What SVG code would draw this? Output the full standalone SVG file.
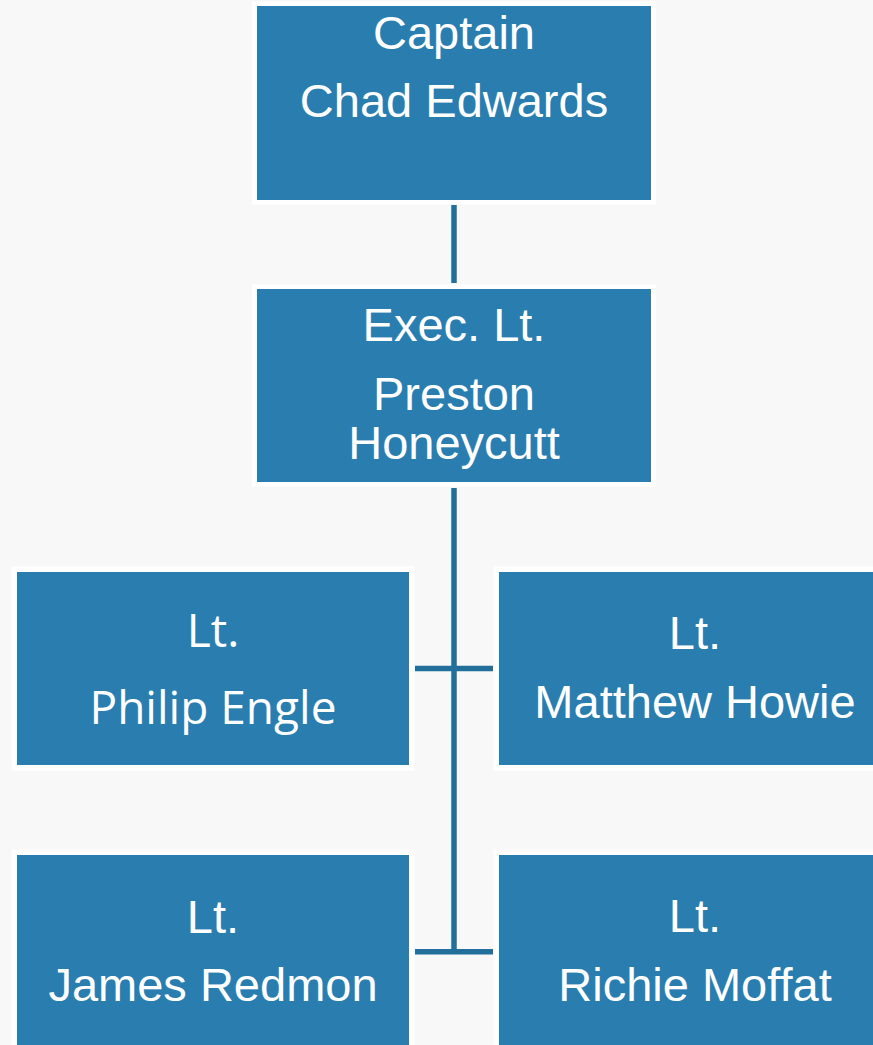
<svg xmlns="http://www.w3.org/2000/svg" width="873" height="1045" viewBox="0 0 873 1045">
<style>
.frame{fill:#ffffff}
.box{fill:#297EAF}
.t{fill:#ffffff;font-family:"Liberation Sans",Arial,sans-serif;font-size:47px;text-anchor:middle}
.s{fill:#ffffff;font-family:"Open Sans","Noto Sans",sans-serif;font-size:46px;text-anchor:middle}
.c{stroke:#236F9C;stroke-width:5.5;fill:none}
</style>
<rect x="0" y="0" width="873" height="1045" fill="#F8F8F8"/>
<g id="connectors">
<line class="c" x1="454" y1="205" x2="454" y2="283"/>
<line class="c" x1="454" y1="488" x2="454" y2="954"/>
<line class="c" x1="415" y1="668.5" x2="493" y2="668.5"/>
<line class="c" x1="415" y1="951.7" x2="493" y2="951.7"/>
</g>
<g id="captain">
<rect class="frame" x="252" y="1.5" width="404" height="203"/>
<rect class="box" x="257" y="6" width="394" height="194"/>
<text class="t" x="454" y="49">Captain</text>
<text class="t" x="454" y="117">Chad Edwards</text>
</g>
<g id="exec">
<rect class="frame" x="252" y="284.5" width="404" height="202"/>
<rect class="box" x="257" y="289" width="394" height="193"/>
<text class="t" x="454" y="341">Exec. Lt.</text>
<text class="t" x="454" y="410">Preston</text>
<text class="t" x="454" y="459">Honeycutt</text>
</g>
<g id="philip">
<rect class="frame" x="11.5" y="566.5" width="403" height="204"/>
<rect class="box" x="17" y="572" width="392" height="193"/>
<text class="s" x="213" y="647">Lt.</text>
<text class="s" x="213" y="724">Philip Engle</text>
</g>
<g id="matthew">
<rect class="frame" x="493.5" y="566.5" width="403" height="204"/>
<rect class="box" x="499" y="572" width="392" height="193"/>
<text class="t" x="695" y="649">Lt.</text>
<text class="t" x="695" y="718">Matthew Howie</text>
</g>
<g id="james">
<rect class="frame" x="11.5" y="849.5" width="403" height="204"/>
<rect class="box" x="17" y="855" width="392" height="200"/>
<text class="t" x="213" y="933">Lt.</text>
<text class="t" x="213" y="1001">James Redmon</text>
</g>
<g id="richie">
<rect class="frame" x="493.5" y="849.5" width="403" height="204"/>
<rect class="box" x="499" y="855" width="392" height="200"/>
<text class="t" x="695" y="932">Lt.</text>
<text class="t" x="695" y="1001">Richie Moffat</text>
</g>
</svg>
